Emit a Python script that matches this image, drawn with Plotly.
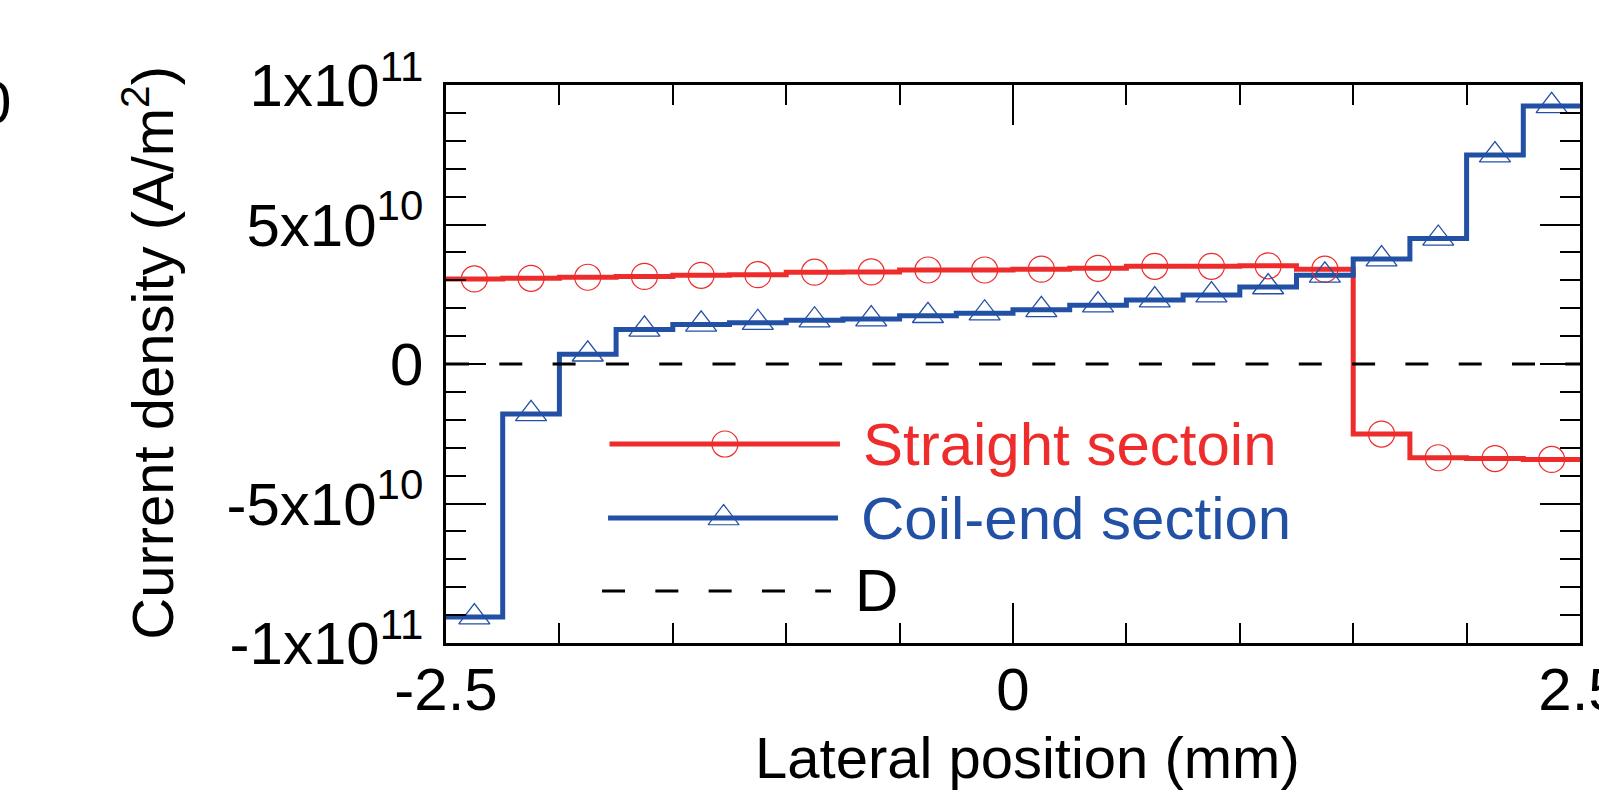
import plotly.graph_objects as go

# ---------------- data ----------------
# bin edges of the lateral position (mm) and bin centres where markers sit
lateral_edges = [-2.5, -2.25, -2.0, -1.75, -1.5, -1.25, -1.0, -0.75, -0.5, -0.25,
                 0.0, 0.25, 0.5, 0.75, 1.0, 1.25, 1.5, 1.75, 2.0, 2.25, 2.5]
lateral_centers = [-2.375, -2.125, -1.875, -1.625, -1.375, -1.125, -0.875, -0.625,
                   -0.375, -0.125, 0.125, 0.375, 0.625, 0.875, 1.125, 1.375,
                   1.625, 1.875, 2.125, 2.375]

# current density (A/m^2) per bin
straight_section = [3.05e10, 3.07e10, 3.11e10, 3.14e10, 3.18e10, 3.20e10, 3.29e10,
                    3.30e10, 3.37e10, 3.37e10, 3.40e10, 3.43e10, 3.50e10, 3.50e10,
                    3.52e10, 3.40e10, -2.51e10, -3.36e10, -3.39e10, -3.42e10]
coil_end_section = [-9.07e10, -1.79e10, 0.35e10, 1.24e10, 1.42e10, 1.48e10, 1.57e10,
                    1.61e10, 1.73e10, 1.82e10, 1.94e10, 2.11e10, 2.29e10, 2.47e10,
                    2.76e10, 3.18e10, 3.76e10, 4.50e10, 7.49e10, 9.25e10]
d_x = [-2.5, 2.5]
d_values = [0, 0]

x_tickvals = [-2.5, 0, 2.5]
x_ticktext = ["-2.5", "0", "2.5"]
y_tickvals = [-1e11, -5e10, 0, 5e10, 1e11]
y_ticktext = ["-1x10<sup>11</sup>", "-5x10<sup>10</sup>", "0",
              "5x10<sup>10</sup>", "1x10<sup>11</sup>"]

legend_names = ["Straight sectoin", "Coil-end section", "D"]

# ---------------- style ----------------
RED = "#EE2C2C"
BLUE = "#2150A5"
FONT = "Arial, Liberation Sans, sans-serif"
DASH = "23px,30.3px"
LW = 5

fig = go.Figure()

# step lines (value repeated at the last edge so the final step reaches x=2.5)
fig.add_trace(go.Scatter(x=lateral_edges, y=straight_section + straight_section[-1:],
                         mode="lines", line=dict(color=RED, width=LW, shape="hv"),
                         showlegend=False))
fig.add_trace(go.Scatter(x=lateral_edges, y=coil_end_section + coil_end_section[-1:],
                         mode="lines", line=dict(color=BLUE, width=LW, shape="hv"),
                         showlegend=False))
fig.add_trace(go.Scatter(x=d_x, y=d_values, mode="lines",
                         line=dict(color="black", width=3, dash=DASH),
                         showlegend=False))
# markers
fig.add_trace(go.Scatter(x=lateral_centers, y=straight_section, mode="markers",
                         marker=dict(symbol="circle-open", size=26, color=RED,
                                     line=dict(width=1.2)),
                         showlegend=False))
fig.add_trace(go.Scatter(x=lateral_centers, y=coil_end_section, mode="markers",
                         marker=dict(symbol="triangle-up-open", size=27, color=BLUE,
                                     line=dict(width=1.3)),
                         showlegend=False))

# ---------------- custom legend on an overlay axis (0..1 frame) ----------------
leg_rows = [
    dict(x0=0.1442, x1=0.3474, xm=0.2460, y=0.3566, color=RED, dash="solid",
         symbol="circle-open", size=26, tx=0.3660),
    dict(x0=0.1429, x1=0.3457, xm=0.2448, y=0.2240, color=BLUE, dash="solid",
         symbol="triangle-up-open", size=27, tx=0.3645),
    dict(x0=0.1376, x1=0.3395, xm=None, y=0.0932, color="black", dash=DASH,
         symbol=None, size=0, tx=0.3590),
]
for name, r in zip(legend_names, leg_rows):
    fig.add_trace(go.Scatter(x=[r["x0"], r["x1"]], y=[r["y"], r["y"]], mode="lines",
                             line=dict(color=r["color"], width=LW if r["symbol"] else 3,
                                       dash=r["dash"]),
                             xaxis="x2", yaxis="y2", showlegend=False, hoverinfo="skip"))
    if r["symbol"]:
        fig.add_trace(go.Scatter(x=[r["xm"]], y=[r["y"]], mode="markers",
                                 marker=dict(symbol=r["symbol"], size=r["size"],
                                             color=r["color"], line=dict(width=1.2)),
                                 xaxis="x2", yaxis="y2", showlegend=False,
                                 hoverinfo="skip"))
    fig.add_annotation(x=r["tx"], y=r["y"], xref="x2", yref="y2", text=name,
                       showarrow=False, xanchor="left", yanchor="middle",
                       font=dict(family=FONT, size=60, color=r["color"]))

# axis titles
fig.add_annotation(x=0.513, y=-0.205, xref="paper", yref="paper",
                   text="Lateral position (mm)", showarrow=False,
                   xanchor="center", yanchor="middle",
                   font=dict(family=FONT, size=58, color="black"))
fig.add_annotation(x=-0.262, y=0.52, xref="paper", yref="paper",
                   text="Current density (A/m<sup>2</sup>)", showarrow=False,
                   textangle=-90, xanchor="center", yanchor="middle",
                   font=dict(family=FONT, size=58, color="black"))
# partially visible label from the neighbouring panel
fig.add_annotation(x=-0.3818, y=0.968, xref="paper", yref="paper", text="0",
                   showarrow=False, xanchor="right", yanchor="middle",
                   font=dict(family=FONT, size=60, color="black"))

axis_common = dict(showgrid=False, zeroline=False, showline=True, linecolor="black",
                   linewidth=2.5, mirror="ticks", ticks="inside", ticklen=40,
                   tickwidth=2, tickcolor="black", ticklabeloverflow="allow",
                   automargin=False,
                   tickfont=dict(family=FONT, size=60, color="black"))

fig.update_layout(
    width=1599, height=796, autosize=False,
    margin=dict(l=446, r=19, t=85, b=153, autoexpand=False),
    paper_bgcolor="white", plot_bgcolor="white",
    showlegend=False,
    xaxis=dict(range=[-2.5, 2.5], tickmode="array", tickvals=x_tickvals,
               ticktext=x_ticktext, ticklabelstandoff=-8,
               minor=dict(dtick=0.5, tick0=-2.5, ticks="inside", ticklen=20,
                          tickwidth=2, tickcolor="black"),
               **axis_common),
    yaxis=dict(range=[-1e11, 1e11], tickmode="array", tickvals=y_tickvals,
               ticktext=y_ticktext, ticklabelstandoff=8,
               minor=dict(dtick=1e10, tick0=0, ticks="inside", ticklen=20,
                          tickwidth=2, tickcolor="black"),
               **axis_common),
    xaxis2=dict(range=[0, 1], overlaying="x", visible=False, fixedrange=True),
    yaxis2=dict(range=[0, 1], overlaying="y", visible=False, fixedrange=True),
)

fig.write_html("out.html")
